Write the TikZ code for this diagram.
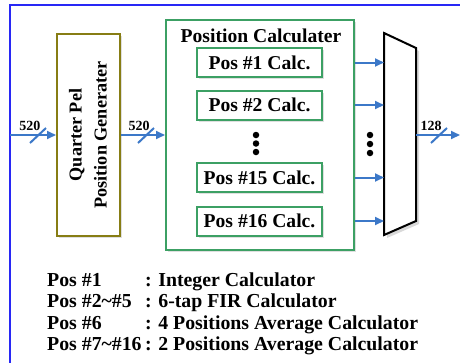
\documentclass[tikz,border=0pt]{standalone}
\usepackage{fontspec}
\setmainfont{Liberation Serif}
\usetikzlibrary{arrows.meta,shadows,calc}
\definecolor{frameblue}{RGB}{40,40,245}
\definecolor{arrowblue}{RGB}{60,120,200}
\definecolor{boxgreen}{RGB}{60,160,100}
\definecolor{boxolive}{RGB}{135,125,20}
\tikzset{
  shad/.style={drop shadow={opacity=0.25,shadow xshift=2pt,shadow yshift=-2pt}},
  qpbox/.style={draw=boxolive,line width=2pt,fill=white,shad,minimum width=63pt,minimum height=202pt,inner sep=0pt},
  pcbox/.style={draw=boxgreen,line width=2pt,fill=white,shad,minimum width=188pt,minimum height=230pt,inner sep=0pt},
  calcbox/.style={draw=boxgreen,line width=2pt,fill=white,shad,minimum width=125pt,minimum height=29pt,inner sep=0pt,font=\bfseries\fontsize{19.6}{22}\selectfont},
  sig/.style={draw=arrowblue,line width=2pt,-{Triangle[length=9pt,width=8pt]}},
  slashline/.style={draw=arrowblue,line width=2pt},
  buslabel/.style={font=\bfseries\fontsize{14}{16}\selectfont,anchor=base,inner sep=0pt},
  legend/.style={font=\bfseries\fontsize{19.8}{22}\selectfont,anchor=base west,inner sep=0pt},
  dotmark/.style={fill=black,draw=none,circle,minimum size=6.5pt,inner sep=0pt}
}
\begin{document}
\begin{tikzpicture}[x=1pt,y=-1pt]
\useasboundingbox (0,0) rectangle (460,362);
% frame
\draw[frameblue,line width=2pt] (10,363) -- (10,4.5) -- (461,4.5);
% boxes
\node[qpbox] (qp) at (88.5,135) {};
\node[rotate=90,align=center,font=\bfseries\fontsize{18.2}{25}\selectfont] (qptext) at (88,135) {Quarter Pel\\Position Generater};
\node[pcbox] (pc) at (260,135) {};
\node[font=\bfseries\fontsize{19.6}{22}\selectfont,anchor=base,inner sep=0pt] (pctitle) at (261,42) {Position Calculater};
\node[calcbox] (p1) at (259.5,62.5) {Pos \#1 Calc.};
\node[calcbox] (p2) at (259.5,105) {Pos \#2 Calc.};
\node[calcbox] (p15) at (259.5,177.5) {Pos \#15 Calc.};
\node[calcbox] (p16) at (259.5,221) {Pos \#16 Calc.};
\node[dotmark] (d1) at (256,135) {};
\node[dotmark] (d2) at (256,143.5) {};
\node[dotmark] (d3) at (256,152) {};
\node[dotmark] (e1) at (370,135) {};
\node[dotmark] (e2) at (370,144) {};
\node[dotmark] (e3) at (370,153) {};
% mux
\coordinate (mtl) at (384,33);
\coordinate (mtr) at (416,48);
\coordinate (mbr) at (416,221);
\coordinate (mbl) at (384,235);
\fill[black,opacity=0.15] ($(mtl)+(3,3)$) -- ($(mtr)+(3,3)$) -- ($(mbr)+(3,3)$) -- ($(mbl)+(3,3)$) -- cycle;
\draw[black,line width=2pt,fill=white,line join=miter] (mtl) -- (mtr) -- (mbr) -- (mbl) -- cycle;
% signals
\coordinate (in) at (10,135);
\coordinate (muxout) at (416,135);
\coordinate (out) at (460,135);
\draw[sig] (in) -- (qp.west |- in);
\draw[sig] (qp.east |- in) -- (pc.west |- in);
\draw[sig] (muxout) -- (out);
\foreach \p in {p1,p2,p15,p16}{
  \draw[sig] (pc.east |- \p) -- (mtl |- \p);
}
% bus slashes and labels
\draw[slashline] (30,143) -- (46,128);
\draw[slashline] (138,143) -- (154,128);
\draw[slashline] (431,143) -- (447,128);
\node[buslabel] (l1) at (30,130) {520};
\node[buslabel] (l2) at (139,130) {520};
\node[buslabel] (l3) at (431,130) {128};
% legend
\node[legend] (a1) at (47,286) {Pos \#1};
\node[legend] (a2) at (47,307.5) {Pos \#2\char`~\#5};
\node[legend] (a3) at (47,329) {Pos \#6};
\node[legend] (a4) at (47,350.5) {Pos \#7\char`~\#16};
\node[legend] (b1) at (145,286) {: Integer Calculator};
\node[legend] (b2) at (145,307.5) {: 6-tap FIR Calculator};
\node[legend] (b3) at (145,329) {: 4 Positions Average Calculator};
\node[legend] (b4) at (145,350.5) {: 2 Positions Average Calculator};
\end{tikzpicture}
\end{document}
